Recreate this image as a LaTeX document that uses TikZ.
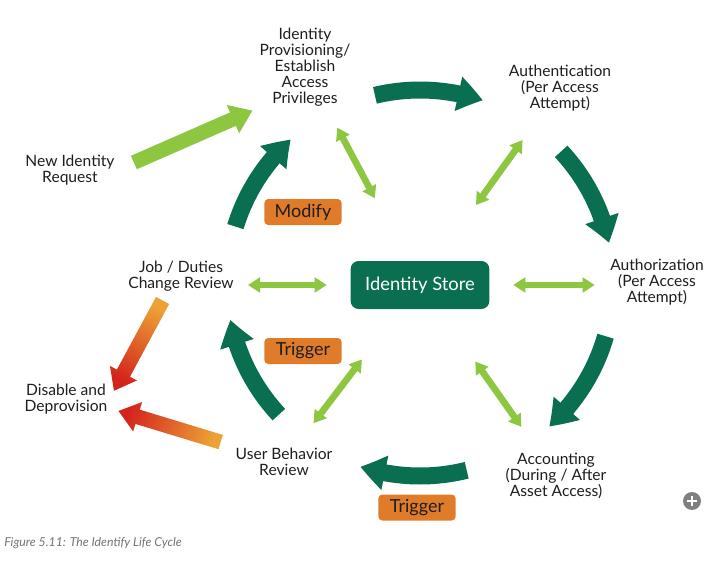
\documentclass[tikz,border=0pt]{standalone}
\usepackage{fontspec}
\setmainfont{Lato}
\usepackage{tikz}
\usetikzlibrary{arrows.meta,bending,calc,positioning}
\definecolor{deepgreen}{HTML}{0A6E50}
\definecolor{leaf}{HTML}{8DC63F}
\definecolor{amber}{HTML}{E07B2A}
\definecolor{flame}{HTML}{D3241C}
\definecolor{gold}{HTML}{ECA236}
\definecolor{ink}{HTML}{1E1E1E}

\begin{document}
\begin{tikzpicture}[x=0.75pt,y=0.75pt,every node/.style={font=\fontsize{11.7}{12}\selectfont,align=center,text=ink,inner sep=1.5pt},tag/.style={fill=amber,rounded corners=3pt,minimum width=58pt,minimum height=19.5pt,font=\fontsize{13.5}{14}\selectfont},ring/.style={line width=12.75pt,deepgreen,-{Triangle[width=25pt,length=19pt,bend]}},spoke/.style={line width=5pt,leaf,{Triangle[width=11pt,length=9pt]}-{Triangle[width=11pt,length=9pt]}}]
\useasboundingbox (0,0) rectangle (726,562);
% stages of the cycle
\node (prov) at (305,495) {Identity\\Provisioning/\\Establish\\Access\\Privileges};
\node (authn) at (560,474) {Authentication\\(Per Access\\Attempt)};
\node (authz) at (657,280) {Authorization\\(Per Access\\Attempt)};
\node (acct) at (556,86) {Accounting\\(During / After\\Asset Access)};
\node (ub) at (284,100) {User Behavior\\Review};
\node (job) at (181,286) {Job / Duties\\Change Review};
\node (new) at (70,392) {New Identity\\Request};
\node (disable) at (66,163) {Disable and\\Deprovision};
\node[fill=deepgreen,text=white,rounded corners=6pt,minimum width=104pt,minimum height=36pt,font=\fontsize{13.8}{14}\selectfont] (store) at (420,277) {Identity Store};
\node[tag] (modify) at (303,350) {Modify};
\node[tag] (trig1) at (303,211) {Trigger};
\node[tag] (trig2) at (417,54.5) {Trigger};
\coordinate (hub) at (420,279);
% outer loop
\foreach \a/\b in {103.5/71,43/12,-16/-48,-76/-108,223/191,163/132}
  \draw[ring] ([shift={(\a:193)}]hub) arc[start angle=\a,end angle=\b,radius=193];
% links to the store
\foreach \t in {prov,authn,acct,ub}
  \draw[spoke] ($(hub)!72pt!(\t)$) -- ($(hub)!132pt!(\t)$);
\draw[spoke] ($(store.center)!70pt!(store -| job)$) -- ($(store.center)!129pt!(store -| job)$);
\draw[spoke] ($(store.center)!70pt!(store -| authz)$) -- ($(store.center)!131pt!(store -| authz)$);
\draw[line width=11pt,leaf,-{Triangle[width=22pt,length=16pt]},shorten <=14pt,shorten >=4pt] (new.east) -- (prov.south west);
% exits
\coordinate (f1a) at ($(job.230)!6pt!(disable.east)$);
\coordinate (f1b) at ($(disable.east)!7pt!(job.230)$);
\coordinate (f1h) at ($(f1b)!15pt!(f1a)$);
\shade[left color=gold,right color=flame,shading angle=331] ($(f1a)!5.6pt!90:(f1b)$) -- ($(f1h)!5.6pt!90:(f1b)$) -- ($(f1h)!11.5pt!90:(f1b)$) -- (f1b) -- ($(f1h)!11.5pt!-90:(f1b)$) -- ($(f1h)!5.6pt!-90:(f1b)$) -- ($(f1a)!5.6pt!-90:(f1b)$) -- cycle;
\coordinate (f2a) at ($(ub.north west)!10pt!(disable.-12)$);
\coordinate (f2b) at ($(disable.-12)!7pt!(ub.north west)$);
\coordinate (f2h) at ($(f2b)!15pt!(f2a)$);
\shade[left color=gold,right color=flame,shading angle=252] ($(f2a)!5.6pt!90:(f2b)$) -- ($(f2h)!5.6pt!90:(f2b)$) -- ($(f2h)!11.5pt!90:(f2b)$) -- (f2b) -- ($(f2h)!11.5pt!-90:(f2b)$) -- ($(f2h)!5.6pt!-90:(f2b)$) -- ($(f2a)!5.6pt!-90:(f2b)$) -- cycle;
% caption and page button
\node[anchor=west,font=\itshape\fontsize{9.2}{11}\selectfont,text=black!55] (caption) at (2,19) {Figure 5.11: The Identify Life Cycle};
\node[circle,fill=black!50,minimum size=13.5pt,inner sep=0pt] (plus) at (692,61) {};
\draw[white,line width=1.3pt] ($(plus)+(-5,0)$) -- ($(plus)+(5,0)$) ($(plus)+(0,-5)$) -- ($(plus)+(0,5)$);
\end{tikzpicture}
\end{document}
